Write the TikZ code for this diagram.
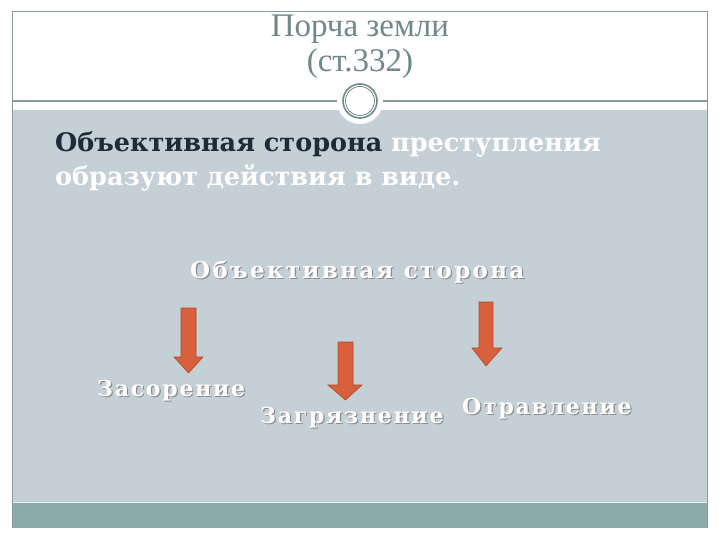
\documentclass[tikz,border=0pt]{standalone}
\usepackage{fontspec}
\setmainfont{Liberation Serif}
\newfontfamily\bodyfont{DejaVu Serif}
\newfontfamily\headfont[LetterSpace=10]{DejaVu Serif}
\newfontfamily\spacedfont[LetterSpace=8]{DejaVu Serif}
\definecolor{band}{HTML}{C5CFD6}
\definecolor{teal}{HTML}{8AABAA}
\definecolor{frame}{HTML}{8A9A9A}
\definecolor{titlecol}{HTML}{6F8888}
\definecolor{darktext}{HTML}{1E2B38}
\definecolor{arrowfill}{HTML}{D8603C}
\definecolor{arrowedge}{HTML}{B04A2C}
\definecolor{ringcol}{HTML}{6F8A88}
\tikzset{
  titletext/.style={font=\fontsize{33}{36}\selectfont, text=titlecol, inner sep=0pt},
  bodytext/.style={font=\bodyfont\bfseries\fontsize{25.5}{34}\selectfont, inner sep=0pt, anchor=base west, align=left},
  headtext/.style={font=\headfont\bfseries\fontsize{23}{26}\selectfont, inner sep=0pt, anchor=base west, text=white},
  headshadow/.style={font=\headfont\bfseries\fontsize{23}{26}\selectfont, inner sep=0pt, anchor=base west, text=black!45},
  spaced/.style={font=\spacedfont\bfseries\fontsize{22}{24}\selectfont, inner sep=0pt, anchor=base west, text=white},
  shadowtext/.style={font=\spacedfont\bfseries\fontsize{22}{24}\selectfont, inner sep=0pt, anchor=base west, text=black!45},
  downarrow/.style={fill=arrowfill, draw=arrowedge, line width=0.6pt}
}
\begin{document}
\begin{tikzpicture}[x=1pt,y=-1pt]
\useasboundingbox (0,0) rectangle (720,540);
\fill[white] (0,0) rectangle (720,540);
% gray band and teal bar
\fill[band] (12,110) rectangle (707,503);
\fill[teal] (12,503) rectangle (707,528);
\draw[white!80!teal, line width=1pt] (12,502) -- (707,502);
% frame
\draw[frame, line width=1pt] (12,12) -- (707,12) -- (707,528) (12,12) -- (12,528);
\draw[frame, line width=1.2pt] (12,101) -- (707,101);
% circle ornament
\fill[white] (360,101) circle (23);
\draw[ringcol, line width=1.6pt] (360,101) circle (17);
\draw[ringcol, line width=0.8pt] (360,101) circle (14.5);
\node[inner sep=0pt] (ring) at (360,101) {};
% title
\node[titletext, anchor=base] (t1) at (360,37) {Порча земли};
\node[titletext, anchor=base] (t2) at (360,72) {(ст.332)};
% body text
\node[bodytext] (b1) at (55,152) {\textcolor{darktext}{Объективная сторона} \textcolor{white}{преступления}};
\node[bodytext, text=white] (b2) at (55,186) {образуют действия в виде.};
% heading
\node[headshadow] at (191.2,279.2) {Объективная сторона};
\node[headtext] (h) at (190,278) {Объективная сторона};
% arrows
\draw[downarrow] (181,308) -- (196,308) -- (196,357) -- (203,357) -- (188.5,373) -- (174,357) -- (181,357) -- cycle;
\draw[downarrow] (338,342) -- (353,342) -- (353,385) -- (362,385) -- (345.5,400) -- (328,385) -- (338,385) -- cycle;
\draw[downarrow] (479,302) -- (493,302) -- (493,348) -- (502,348) -- (486,366) -- (472,348) -- (479,348) -- cycle;
\node[inner sep=0pt] (a1) at (188.5,340) {};
\node[inner sep=0pt] (a2) at (345.5,370) {};
\node[inner sep=0pt] (a3) at (486,334) {};
% labels
\node[shadowtext] at (98.2,397.2) {Засорение};
\node[spaced] (l1) at (97,396) {Засорение};
\node[shadowtext] at (261.2,424.2) {Загрязнение};
\node[spaced] (l2) at (260,423) {Загрязнение};
\node[shadowtext] at (463.2,415.2) {Отравление};
\node[spaced] (l3) at (462,414) {Отравление};
\end{tikzpicture}
\end{document}
